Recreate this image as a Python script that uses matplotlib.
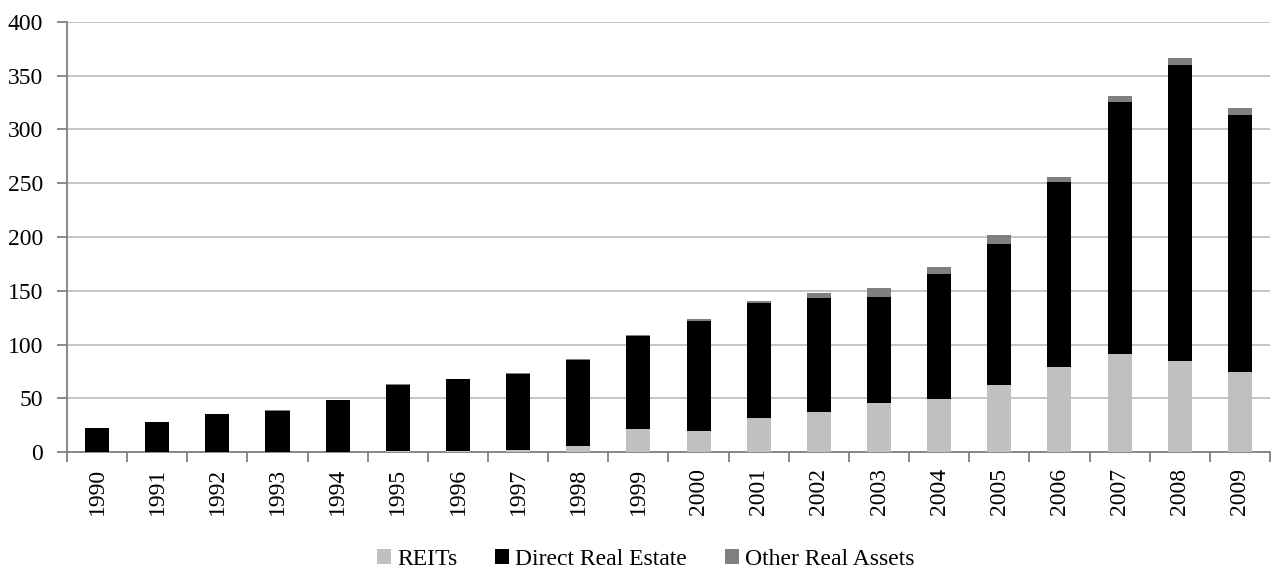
import numpy as np
import matplotlib
matplotlib.use("Agg")
import matplotlib.pyplot as plt
from matplotlib.ticker import FixedLocator

plt.rcParams['font.family'] = ['Liberation Serif', 'DejaVu Serif']

years = [str(y) for y in range(1990, 2010)]
reits = [0, 0, 0, 0, 0, 1.0, 1.5, 2.2, 6.0, 21.7, 20.0, 32.3, 37.3, 45.5,
         49.2, 62.2, 79.2, 90.9, 84.7, 74.2]
direct = [22.6, 27.7, 35.2, 38.7, 48.4, 61.9, 66.4, 70.8, 79.4, 86.3, 102.4,
          106.8, 105.9, 98.3, 116.5, 131.4, 171.9, 234.4, 275.2, 239.3]
other = [0.2, 0.2, 0.3, 0.3, 0.5, 0.5, 0.5, 0.9, 1.2, 1.0, 1.2, 1.9, 4.9,
         8.5, 6.8, 8.6, 4.6, 5.6, 6.2, 6.2]

fig = plt.figure(figsize=(12.71, 5.71), dpi=100)
ax = fig.add_axes([0.0527, 0.2079, 0.9465, 0.7541])

x = np.arange(len(years))
reits = np.array(reits)
direct = np.array(direct)
other = np.array(other)
w = 0.4
ax.bar(x, reits, w, color='#c0c0c0', label='REITs', zorder=3)
ax.bar(x, direct, w, bottom=reits, color='#000000', label='Direct Real Estate', zorder=3)
ax.bar(x, other, w, bottom=reits + direct, color='#808080', label='Other Real Assets', zorder=3)

ax.set_xlim(-0.5, len(years) - 0.5)
ax.set_ylim(0, 400)
ax.set_yticks(range(0, 401, 50))
ax.yaxis.grid(True, color='#c0c0c0', linewidth=1.3, zorder=0)
ax.set_axisbelow(True)

ax.set_xticks(x)
ax.set_xticklabels(years, rotation=90, fontsize=17)
ax.xaxis.set_minor_locator(FixedLocator(np.arange(-0.5, len(years), 1.0)))
ax.tick_params(axis='x', which='major', length=0, pad=11)
ax.tick_params(axis='x', which='minor', length=7, width=1.3, color='#808080')
ax.tick_params(axis='y', length=7, width=1.3, color='#808080', labelsize=17, pad=10)

for s in ['top', 'right']:
    ax.spines[s].set_visible(False)
for s in ['left', 'bottom']:
    ax.spines[s].set_color('#808080')
    ax.spines[s].set_linewidth(1.3)

fig.legend(loc='lower center', ncol=3, frameon=False, fontsize=17,
           bbox_to_anchor=(0.508, -0.035), handlelength=0.6, handleheight=0.6,
           handletextpad=0.25, columnspacing=1.6)

fig.savefig("out.png", dpi=100)
